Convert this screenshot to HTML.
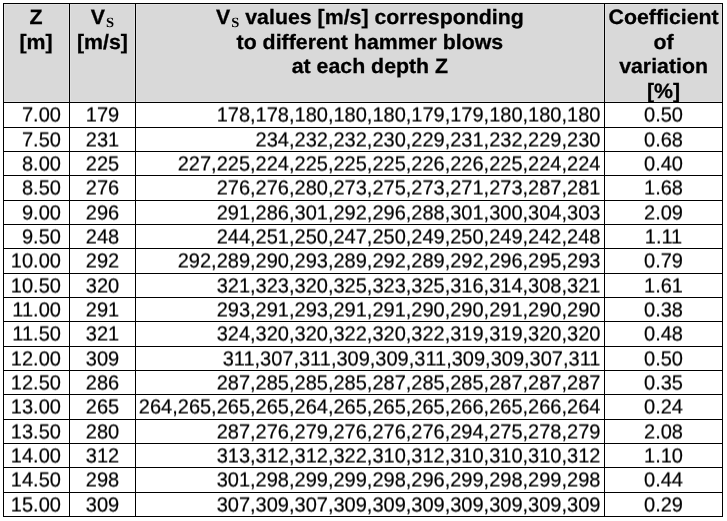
<!DOCTYPE html>
<html><head><meta charset="utf-8"><title>Table</title>
<style>
html,body{margin:0;padding:0;background:#fff;}
body{width:727px;height:521px;position:relative;overflow:hidden;font-family:"Liberation Sans",sans-serif;color:#000;}
#w{position:absolute;left:0;top:0;width:727px;height:521px;background:#fff;will-change:transform;text-rendering:geometricPrecision;}
.hd{position:absolute;left:3px;top:3px;width:720px;height:100px;background:#d9d9d9;}
.l{position:absolute;background:#000;}
.t{position:absolute;white-space:pre;font-size:20px;line-height:24px;height:24px;transform:scaleY(1.02);transform-origin:0 18px;-webkit-text-stroke:0.2px #000;}
.c{text-align:center;}
.r{text-align:right;}
.h{position:absolute;white-space:pre;font-weight:bold;font-size:21.33px;line-height:24px;height:24px;text-align:center;transform:scaleY(0.975);transform-origin:0 19px;-webkit-text-stroke:0.3px #000;}
.s{font-family:"Liberation Serif",serif;font-weight:bold;font-size:14.5px;position:relative;top:3px;margin-left:1px;-webkit-text-stroke:0;}
</style></head><body><div id="w">
<svg width="0" height="0" style="position:absolute"><defs><filter id="hp" x="0" y="0" width="100%" height="100%" color-interpolation-filters="sRGB"><feConvolveMatrix order="1 2" kernelMatrix="0.5 0.5" targetX="0" targetY="1" divisor="1" edgeMode="none" preserveAlpha="false"/></filter></defs></svg>
<div class="hd"></div>

<div class="l" style="left:4px;top:4px;width:718px;height:1px;background:#e1e1e1"></div>
<div class="l" style="left:4px;top:101px;width:718px;height:1px;background:#e1e1e1"></div>
<div class="l" style="left:4px;top:4px;width:1px;height:98px;background:#e1e1e1"></div>
<div class="l" style="left:68px;top:4px;width:1px;height:98px;background:#e1e1e1"></div>
<div class="l" style="left:70px;top:4px;width:1px;height:98px;background:#e1e1e1"></div>
<div class="l" style="left:134px;top:4px;width:1px;height:98px;background:#e1e1e1"></div>
<div class="l" style="left:136px;top:4px;width:1px;height:98px;background:#e1e1e1"></div>
<div class="l" style="left:603px;top:4px;width:1px;height:98px;background:#e1e1e1"></div>
<div class="l" style="left:605px;top:4px;width:1px;height:98px;background:#e1e1e1"></div>
<div class="l" style="left:721px;top:4px;width:1px;height:98px;background:#e1e1e1"></div>
<div class="l" style="left:3px;top:3px;width:720px;height:1px"></div>
<div class="l" style="left:3px;top:102px;width:720px;height:1px"></div>
<div class="l" style="left:3px;top:127px;width:720px;height:1px"></div>
<div class="l" style="left:3px;top:151px;width:720px;height:1px"></div>
<div class="l" style="left:3px;top:175px;width:720px;height:1px"></div>
<div class="l" style="left:3px;top:200px;width:720px;height:1px"></div>
<div class="l" style="left:3px;top:224px;width:720px;height:1px"></div>
<div class="l" style="left:3px;top:248px;width:720px;height:1px"></div>
<div class="l" style="left:3px;top:273px;width:720px;height:1px"></div>
<div class="l" style="left:3px;top:297px;width:720px;height:1px"></div>
<div class="l" style="left:3px;top:321px;width:720px;height:1px"></div>
<div class="l" style="left:3px;top:346px;width:720px;height:1px"></div>
<div class="l" style="left:3px;top:370px;width:720px;height:1px"></div>
<div class="l" style="left:3px;top:394px;width:720px;height:1px"></div>
<div class="l" style="left:3px;top:419px;width:720px;height:1px"></div>
<div class="l" style="left:3px;top:443px;width:720px;height:1px"></div>
<div class="l" style="left:3px;top:467px;width:720px;height:1px"></div>
<div class="l" style="left:3px;top:492px;width:720px;height:1px"></div>
<div class="l" style="left:3px;top:516px;width:720px;height:1px"></div>
<div class="l" style="left:3px;top:3px;width:1px;height:514px"></div>
<div class="l" style="left:69px;top:3px;width:1px;height:514px"></div>
<div class="l" style="left:135px;top:3px;width:1px;height:514px"></div>
<div class="l" style="left:604px;top:3px;width:1px;height:514px"></div>
<div class="l" style="left:722px;top:3px;width:1px;height:514px"></div>
<div class="h" style="left:3.00px;top:5px;width:66px">Z</div>
<div class="h" style="left:3.00px;top:30px;width:66px">[m]</div>
<div class="h" style="left:69.50px;top:5px;width:66px">V<span class="s">S</span></div>
<div class="h" style="left:69.50px;top:30px;width:66px">[m/s]</div>
<div class="h" style="left:139.90px;top:5px;width:460px">V<span class="s">S</span> values [m/s] corresponding</div>
<div class="h" style="left:139.90px;top:30px;width:460px">to different hammer blows</div>
<div class="h" style="left:139.90px;top:54px;width:460px">at each depth Z</div>
<div class="h" style="left:598.60px;top:5px;width:130px">Coefficient</div>
<div class="h" style="left:598.60px;top:30px;width:130px">of</div>
<div class="h" style="left:598.60px;top:54px;width:130px">variation</div>
<div class="h" style="left:598.60px;top:79px;width:130px">[%]</div>
<div id="bt" style="position:absolute;left:0;top:103px;width:727px;height:414px;filter:url(#hp)">
<div class="t r" style="left:4px;top:0px;width:56.9px">7.00</div>
<div class="t c" style="left:70px;top:0px;width:65px">179</div>
<div class="t r" style="left:136px;top:0px;width:464.4px">178,178,180,180,180,179,179,180,180,180</div>
<div class="t c" style="left:605px;top:0px;width:117px">0.50</div>
<div class="t r" style="left:4px;top:25px;width:56.9px">7.50</div>
<div class="t c" style="left:70px;top:25px;width:65px">231</div>
<div class="t r" style="left:136px;top:25px;width:464.4px">234,232,232,230,229,231,232,229,230</div>
<div class="t c" style="left:605px;top:25px;width:117px">0.68</div>
<div class="t r" style="left:4px;top:49px;width:56.9px">8.00</div>
<div class="t c" style="left:70px;top:49px;width:65px">225</div>
<div class="t r" style="left:136px;top:49px;width:464.4px">227,225,224,225,225,225,226,226,225,224,224</div>
<div class="t c" style="left:605px;top:49px;width:117px">0.40</div>
<div class="t r" style="left:4px;top:73px;width:56.9px">8.50</div>
<div class="t c" style="left:70px;top:73px;width:65px">276</div>
<div class="t r" style="left:136px;top:73px;width:464.4px">276,276,280,273,275,273,271,273,287,281</div>
<div class="t c" style="left:605px;top:73px;width:117px">1.68</div>
<div class="t r" style="left:4px;top:98px;width:56.9px">9.00</div>
<div class="t c" style="left:70px;top:98px;width:65px">296</div>
<div class="t r" style="left:136px;top:98px;width:464.4px">291,286,301,292,296,288,301,300,304,303</div>
<div class="t c" style="left:605px;top:98px;width:117px">2.09</div>
<div class="t r" style="left:4px;top:122px;width:56.9px">9.50</div>
<div class="t c" style="left:70px;top:122px;width:65px">248</div>
<div class="t r" style="left:136px;top:122px;width:464.4px">244,251,250,247,250,249,250,249,242,248</div>
<div class="t c" style="left:605px;top:122px;width:117px">1.11</div>
<div class="t r" style="left:4px;top:146px;width:56.9px">10.00</div>
<div class="t c" style="left:70px;top:146px;width:65px">292</div>
<div class="t r" style="left:136px;top:146px;width:464.4px">292,289,290,293,289,292,289,292,296,295,293</div>
<div class="t c" style="left:605px;top:146px;width:117px">0.79</div>
<div class="t r" style="left:4px;top:171px;width:56.9px">10.50</div>
<div class="t c" style="left:70px;top:171px;width:65px">320</div>
<div class="t r" style="left:136px;top:171px;width:464.4px">321,323,320,325,323,325,316,314,308,321</div>
<div class="t c" style="left:605px;top:171px;width:117px">1.61</div>
<div class="t r" style="left:4px;top:195px;width:56.9px">11.00</div>
<div class="t c" style="left:70px;top:195px;width:65px">291</div>
<div class="t r" style="left:136px;top:195px;width:464.4px">293,291,293,291,291,290,290,291,290,290</div>
<div class="t c" style="left:605px;top:195px;width:117px">0.38</div>
<div class="t r" style="left:4px;top:219px;width:56.9px">11.50</div>
<div class="t c" style="left:70px;top:219px;width:65px">321</div>
<div class="t r" style="left:136px;top:219px;width:464.4px">324,320,320,322,320,322,319,319,320,320</div>
<div class="t c" style="left:605px;top:219px;width:117px">0.48</div>
<div class="t r" style="left:4px;top:244px;width:56.9px">12.00</div>
<div class="t c" style="left:70px;top:244px;width:65px">309</div>
<div class="t r" style="left:136px;top:244px;width:464.4px">311,307,311,309,309,311,309,309,307,311</div>
<div class="t c" style="left:605px;top:244px;width:117px">0.50</div>
<div class="t r" style="left:4px;top:268px;width:56.9px">12.50</div>
<div class="t c" style="left:70px;top:268px;width:65px">286</div>
<div class="t r" style="left:136px;top:268px;width:464.4px">287,285,285,285,287,285,285,287,287,287</div>
<div class="t c" style="left:605px;top:268px;width:117px">0.35</div>
<div class="t r" style="left:4px;top:292px;width:56.9px">13.00</div>
<div class="t c" style="left:70px;top:292px;width:65px">265</div>
<div class="t r" style="left:136px;top:292px;width:464.4px">264,265,265,265,264,265,265,265,266,265,266,264</div>
<div class="t c" style="left:605px;top:292px;width:117px">0.24</div>
<div class="t r" style="left:4px;top:317px;width:56.9px">13.50</div>
<div class="t c" style="left:70px;top:317px;width:65px">280</div>
<div class="t r" style="left:136px;top:317px;width:464.4px">287,276,279,276,276,276,294,275,278,279</div>
<div class="t c" style="left:605px;top:317px;width:117px">2.08</div>
<div class="t r" style="left:4px;top:341px;width:56.9px">14.00</div>
<div class="t c" style="left:70px;top:341px;width:65px">312</div>
<div class="t r" style="left:136px;top:341px;width:464.4px">313,312,312,322,310,312,310,310,310,312</div>
<div class="t c" style="left:605px;top:341px;width:117px">1.10</div>
<div class="t r" style="left:4px;top:365px;width:56.9px">14.50</div>
<div class="t c" style="left:70px;top:365px;width:65px">298</div>
<div class="t r" style="left:136px;top:365px;width:464.4px">301,298,299,299,298,296,299,298,299,298</div>
<div class="t c" style="left:605px;top:365px;width:117px">0.44</div>
<div class="t r" style="left:4px;top:390px;width:56.9px">15.00</div>
<div class="t c" style="left:70px;top:390px;width:65px">309</div>
<div class="t r" style="left:136px;top:390px;width:464.4px">307,309,307,309,309,309,309,309,309,309</div>
<div class="t c" style="left:605px;top:390px;width:117px">0.29</div>
</div>
</div></body></html>
